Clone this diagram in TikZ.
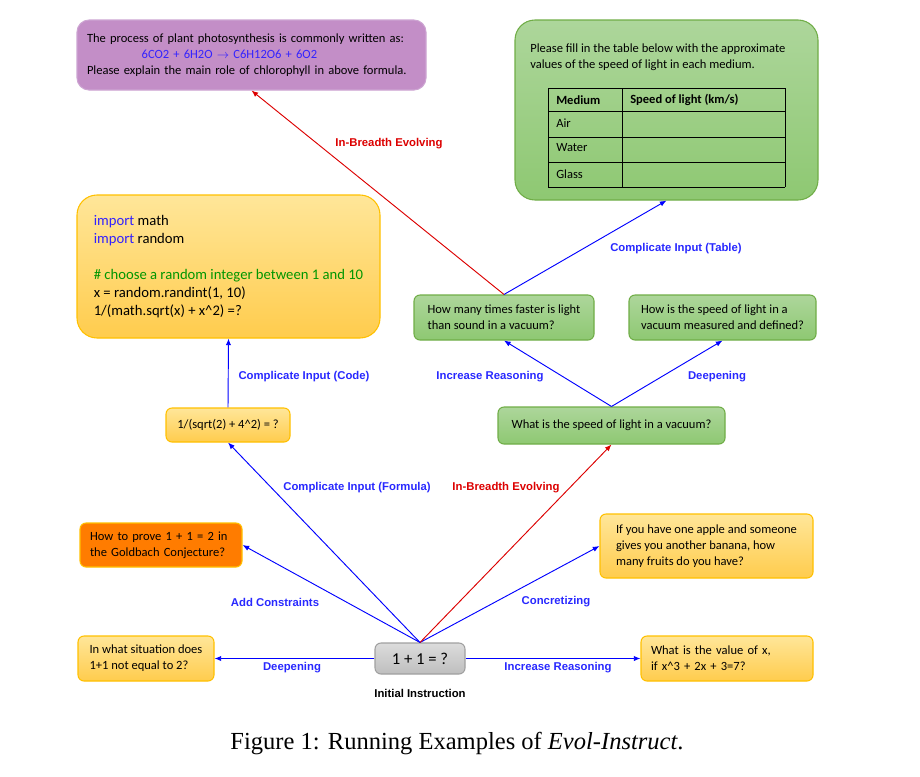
\documentclass[tikz,border=0pt]{standalone}
\usepackage{fontspec}
\setmainfont{Carlito}
\newfontfamily\arialfont{Liberation Sans}
\newfontfamily\timesfont{Liberation Serif}
\usepackage{xcolor}
\usetikzlibrary{arrows.meta}

\definecolor{evBlue}{RGB}{0,0,255}
\definecolor{evLabelBlue}{RGB}{40,40,255}
\definecolor{evRed}{RGB}{220,0,0}
\definecolor{evPurple}{RGB}{195,142,199}
\definecolor{evPurpleLine}{RGB}{205,165,210}
\definecolor{evGreenTop}{RGB}{173,214,155}
\definecolor{evGreenBot}{RGB}{142,200,114}
\definecolor{evGreenLine}{RGB}{112,173,71}
\definecolor{evYellowTop}{RGB}{255,230,153}
\definecolor{evYellowBot}{RGB}{255,204,77}
\definecolor{evYellowLine}{RGB}{255,192,0}
\definecolor{evOrange}{RGB}{255,124,0}
\definecolor{evGreyTop}{RGB}{220,220,220}
\definecolor{evGreyBot}{RGB}{190,190,190}
\definecolor{evGreyLine}{RGB}{160,160,160}
\definecolor{evImport}{RGB}{51,34,255}
\definecolor{evComment}{RGB}{0,150,0}

\newcommand{\boxfont}{\fontsize{9.4}{12}\selectfont}
\newcommand{\codefont}{\fontsize{11}{13.5}\selectfont}
\newcommand{\lblfont}{\arialfont\bfseries\fontsize{8.5}{10}\selectfont}

\tikzset{
  qbox/.style={draw, rounded corners=4.5pt, align=left, inner xsep=7.5pt, inner ysep=0pt, font=\boxfont, line width=0.8pt},
  yellowbox/.style={qbox, draw=evYellowLine, top color=evYellowTop, bottom color=evYellowBot},
  greenbox/.style={qbox, draw=evGreenLine, top color=evGreenTop, bottom color=evGreenBot},
  orangebox/.style={qbox, draw=evYellowLine, fill=evOrange},
  purplebox/.style={qbox, draw=evPurpleLine, fill=evPurple, rounded corners=9pt},
  greybox/.style={qbox, draw=evGreyLine, top color=evGreyTop, bottom color=evGreyBot, align=center},
  evo/.style={-{Latex[length=5pt,width=4pt]}, evBlue, line width=0.7pt},
  breadth/.style={evo, evRed},
  lbl/.style={font=\lblfont, text=evLabelBlue, inner sep=0pt},
  redlbl/.style={lbl, text=evRed},
}

\begin{document}
\begin{tikzpicture}[x=0.75pt, y=-0.75pt]
\useasboundingbox (0,0) rectangle (920,776);

% top row
\node[purplebox, minimum width=261.75pt, minimum height=52.5pt, text width=246.75pt] (photo) at (251.5,55)
  {The process of plant photosynthesis is commonly written as:\\
   \hspace*{41pt}{\color{evImport}6CO2 + 6H2O $\rightarrow$ C6H12O6 + 6O2}\\
   Please explain the main role of chlorophyll in above formula.};

\node[greenbox, rounded corners=15pt, minimum width=227.25pt, minimum height=135pt] (table) at (666.5,110) {};
\node[font=\boxfont, align=left, anchor=north west, inner sep=0pt] (tabtext) at (530,44)
  {Please fill in the table below with the approximate\\ values of the speed of light in each medium.};
\foreach \y in {88,111,137,162,187}
  \draw[line width=0.6pt] (548,\y) -- (785,\y);
\foreach \x in {548,622,785}
  \draw[line width=0.6pt] (\x,88) -- (\x,187);
\node[font=\boxfont\bfseries, anchor=west, inner sep=0pt] (medium) at (556,100) {Medium};
\node[font=\boxfont\bfseries, anchor=west, inner sep=0pt] (speed) at (630,100) {Speed of light (km/s)};
\node[font=\boxfont, anchor=west, inner sep=0pt] (air) at (556,123) {Air};
\node[font=\boxfont, anchor=west, inner sep=0pt] (water) at (556,148) {Water};
\node[font=\boxfont, anchor=west, inner sep=0pt] (glass) at (556,174) {Glass};

% code and formula
\node[yellowbox, rounded corners=15pt, font=\codefont, minimum width=227.25pt, minimum height=107.25pt] (code) at (228.5,266.5)
  {{\color{evImport}import} math\\
   {\color{evImport}import} random\\
   \mbox{}\\
   {\color{evComment}\# choose a random integer between 1 and 10}\\
   x = random.randint(1, 10)\\
   1/(math.sqrt(x) + x\textasciicircum2) =?};
\node[yellowbox, minimum width=93pt, minimum height=25.5pt] (formula) at (228,425)
  {1/(sqrt(2) + 4\textasciicircum2) = ?};

% speed of light branch
\node[greenbox, minimum width=135pt, minimum height=33.75pt] (howmany) at (504,317.5)
  {How many times faster is light\\ than sound in a vacuum?};
\node[greenbox, minimum width=140.25pt, minimum height=33.75pt] (howis) at (722.5,317.5)
  {How is the speed of light in a\\ vacuum measured and defined?};
\node[greenbox, minimum width=170.25pt, minimum height=27.75pt] (whatis) at (611.5,425.5)
  {What is the speed of light in a vacuum?};

% bottom
\node[orangebox, minimum width=121.5pt, minimum height=33pt, text width=106.5pt] (goldbach) at (161,545)
  {How to prove 1 + 1 = 2 in\\ the Goldbach Conjecture?};
\node[yellowbox, minimum width=159.75pt, minimum height=48pt] (apple) at (706.5,546)
  {If you have one apple and someone\\ gives you another banana, how\\ many fruits do you have?};
\node[yellowbox, minimum width=102pt, minimum height=33.75pt] (situation) at (146,658.5)
  {In what situation does\\ 1+1 not equal to 2?};
\node[greybox, font=\fontsize{12.5}{14}\selectfont, minimum width=67.5pt, minimum height=23.25pt] (init) at (420,658.5)
  {1 + 1 = ?};
\node[yellowbox, minimum width=129pt, minimum height=33.75pt, text width=114pt] (valuex) at (727,658.5)
  {What is the value of x,\\ if x\textasciicircum3 + 2x + 3=7?};

% connectors
\draw[evo] (init.west) -- (situation.east);
\draw[evo] (init.east) -- (valuex.west);
\draw[evo] (init.north) -- (goldbach.east);
\draw[evo] (init.north) -- (apple.west);
\draw[evo] (init.north) -- (formula.south);
\draw[breadth] (init.north) -- (whatis.south);
\draw[evo] (formula.north) -- (code.south);
\draw[evo] (whatis.north) -- (howmany.south);
\draw[evo] (whatis.north) -- (howis.south);
\draw[breadth] (howmany.north) -- (photo.south);
\draw[evo] (howmany.north) -- (table.south);

% labels
\node[redlbl] (lblBreadthTop) at (389,144) {In-Breadth Evolving};
\node[lbl] (lblTable) at (676,249) {Complicate Input (Table)};
\node[lbl] (lblCode) at (304,377) {Complicate Input (Code)};
\node[lbl] (lblReasonTop) at (490,377) {Increase Reasoning};
\node[lbl] (lblDeepTop) at (717,377) {Deepening};
\node[lbl] (lblFormula) at (357,488) {Complicate Input (Formula)};
\node[redlbl] (lblBreadth) at (506,488) {In-Breadth Evolving};
\node[lbl] (lblConstraints) at (275,602) {Add Constraints};
\node[lbl] (lblConcrete) at (556,602) {Concretizing};
\node[lbl] (lblDeep) at (292,668) {Deepening};
\node[lbl] (lblReason) at (558,668) {Increase Reasoning};
\node[lbl, text=black] (lblInit) at (420,693) {Initial Instruction};

% caption
\node[font=\timesfont\fontsize{18.4}{21}\selectfont, inner sep=0pt] (caption) at (457,743)
  {Figure 1: Running Examples of \textit{Evol-Instruct}.};
\end{tikzpicture}
\end{document}
